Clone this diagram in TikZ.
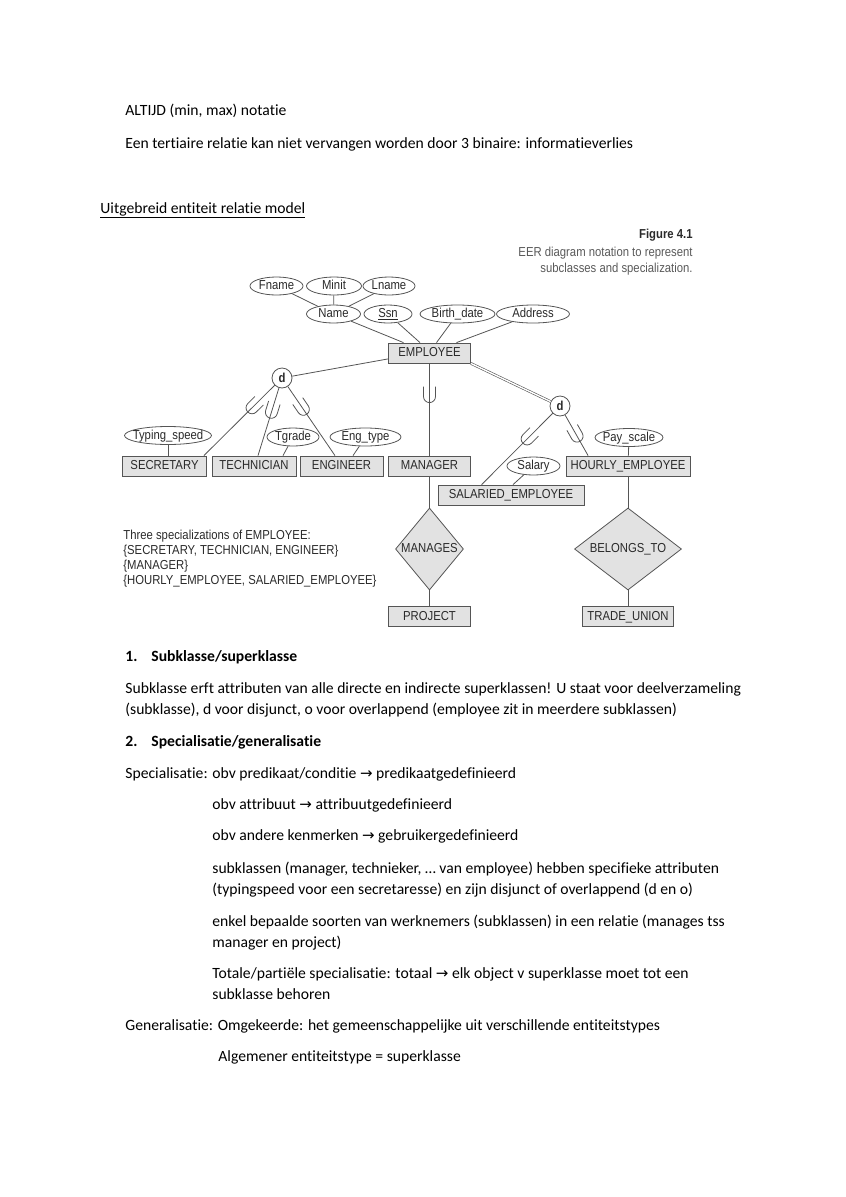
\documentclass[tikz,border=0pt]{standalone}
\usepackage{fontspec}
\setmainfont[Ligatures=NoCommon]{Carlito}
\newfontfamily\diagfont[FakeStretch=0.87]{Liberation Sans}
\newfontfamily\symfont{DejaVu Sans}
\usetikzlibrary{calc, shapes.geometric, decorations.markings}

\definecolor{linegray}{HTML}{555555}
\definecolor{boxgray}{HTML}{E2E2E2}
\definecolor{labelgray}{HTML}{2A2A2A}

\newcommand{\ra}{{\symfont\fontsize{15}{19}\selectfont →}}

\begin{document}
\begin{tikzpicture}[x=1pt, y=-1pt, line width=0.8pt,
    body/.style={anchor=base west, inner sep=0, font=\fontsize{15.64}{19}\selectfont},
    lbl/.style={font=\diagfont\fontsize{13}{15}\selectfont, text=labelgray},
    entity/.style={lbl, draw=linegray, fill=boxgray, minimum width=82, minimum height=20,
        inner xsep=2, inner ysep=0, text height=9.5, text depth=2.5},
    attr/.style={lbl, ellipse, draw=linegray, fill=white, minimum height=18,
        inner xsep=-5, inner ysep=0, text height=9.5, text depth=2.5},
    rel/.style={lbl, diamond, draw=linegray, fill=boxgray, inner xsep=-8, inner ysep=-4,
        text height=9.5, text depth=2.5, minimum height=82},
    disj/.style={circle, draw=linegray, fill=white, minimum size=20, inner sep=0, text=labelgray,
        font=\diagfont\bfseries\fontsize{13}{15}\selectfont},
    link/.style={draw=linegray},
    subset/.style={postaction={decorate}, decoration={markings, mark=at position #1 with
        {\draw[linegray] (-10,-6) -- (0,-6) arc (-90:90:6) -- (-10,6);}}},
]

    % page size
    \useasboundingbox (0,0) rectangle (846,1197);

    % ==========================================
    % 1. TEXT ABOVE THE FIGURE
    % ==========================================
    \node[body] (altijd) at (125,115) {ALTIJD (min, max) notatie};
    \node[body] (tert) at (125,148) {Een tertiaire relatie kan niet vervangen worden door 3 binaire: informatieverlies};
    \node[body] (eer) at (100,213) {\underline{Uitgebreid entiteit relatie model}};

    % caption of the figure
    \node[lbl, anchor=base east, inner sep=0, font=\diagfont\bfseries\fontsize{13}{15}\selectfont] (figno) at (693,238) {Figure 4.1};
    \node[lbl, anchor=base east, inner sep=0, text=black!65] (cap1) at (693,256) {EER diagram notation to represent};
    \node[lbl, anchor=base east, inner sep=0, text=black!65] (cap2) at (693,272) {subclasses and specialization.};

    % ==========================================
    % 2. EMPLOYEE AND ITS ATTRIBUTES
    % ==========================================
    \node[entity] (employee) at (429.5,353) {EMPLOYEE};

    \node[attr, minimum width=53] (fname) at (276.5,286) {Fname};
    \node[attr, minimum width=55] (minit) at (334,286) {Minit};
    \node[attr, minimum width=52] (lname) at (389,286) {Lname};
    \node[attr, minimum width=54] (name) at (333.5,314) {Name};
    \node[attr, minimum width=48] (ssn) at (388,314) {\underline{Ssn}};
    \node[attr, minimum width=75] (birth) at (457.5,314) {Birth\_date};
    \node[attr, minimum width=73] (address) at (533,314) {Address};

    \draw[link] (fname) -- (name);
    \draw[link] (minit) -- (name);
    \draw[link] (lname) -- (name);
    \draw[link] (name) -- ($(employee.north)+(-26,0)$);
    \draw[link] (ssn) -- ($(employee.north)+(-9.5,0)$);
    \draw[link] (birth) -- ($(employee.north)+(7,0)$);
    \draw[link] (address) -- ($(employee.north)+(27,0)$);

    % ==========================================
    % 3. SPECIALIZATIONS
    % ==========================================
    \node[disj] (dleft) at (282,378) {d};
    \node[disj] (dright) at (560,406) {d};

    \node[entity, minimum width=84] (secretary) at (164.5,466) {SECRETARY};
    \node[entity, minimum width=84] (technician) at (254,466) {TECHNICIAN};
    \node[entity, minimum width=83] (engineer) at (341.5,466) {ENGINEER};
    \node[entity] (manager) at (429.5,466) {MANAGER};
    \node[entity, minimum width=124] (hourly) at (628,466) {HOURLY\_EMPLOYEE};
    \node[entity, minimum width=146] (salaried) at (511,495) {SALARIED\_EMPLOYEE};

    \node[attr, minimum width=87] (typing) at (168,435.5) {Typing\_speed};
    \node[attr, minimum width=52] (tgrade) at (293,437) {Tgrade};
    \node[attr, minimum width=71] (engtype) at (365.5,437) {Eng\_type};
    \node[attr, minimum width=68] (payscale) at (629,437.5) {Pay\_scale};
    \node[attr, minimum width=53] (salary) at (533.5,466) {Salary};

    % superclass to the d circles
    \draw[link] (dleft) -- ($(employee.south west)+(0,-4.5)$);
    \draw[linegray, double, double distance=1.4pt, line width=0.6pt] (employee.south east) -- (dright);

    % subclass lines with subset marks
    \draw[link, subset=0.32] (dleft) -- ($(secretary.north east)+(-3,0)$);
    \draw[link, subset=0.36] (dleft) -- ($(technician.north)+(4,0)$);
    \draw[link, subset=0.33] (dleft) -- ($(engineer.north)+(-6.5,0)$);
    \draw[link, subset=0.36] (employee.south) -- (manager.north);
    \draw[link, subset=0.36] (dright) -- ($(salaried.north west)+(44,0)$);
    \draw[link, subset=0.52] (dright) -- ($(hourly.north west)+(22.5,0)$);

    % local attributes
    \draw[link] (typing.south) -- (typing.south |- secretary.north);
    \draw[link] (tgrade) -- ($(technician.north)+(29,0)$);
    \draw[link] (engtype) -- ($(engineer.north)+(11.5,0)$);
    \draw[link] (payscale) -- (hourly);
    \draw[link] (salary) -- ($(salaried.north)+(2,0)$);

    % ==========================================
    % 4. RELATIONSHIPS
    % ==========================================
    \node[rel, minimum width=68] (manages) at (429.5,549) {MANAGES};
    \node[rel, minimum width=107] (belongs) at (628,549) {BELONGS\_TO};
    \node[entity] (project) at (429.5,616.5) {PROJECT};
    \node[entity, minimum width=91] (tradeunion) at (628,616.5) {TRADE\_UNION};

    \draw[link] (manager) -- (manages);
    \draw[link] (manages) -- (project);
    \draw[link] (hourly) -- (belongs);
    \draw[link] (belongs) -- (tradeunion);

    \node[lbl, anchor=north west, inner sep=0, align=left, font=\diagfont\fontsize{13}{15}\selectfont] (three) at (123,530)
        {Three specializations of EMPLOYEE:\\\{SECRETARY, TECHNICIAN, ENGINEER\}\\\{MANAGER\}\\\{HOURLY\_EMPLOYEE, SALARIED\_EMPLOYEE\}};

    % ==========================================
    % 5. TEXT BELOW THE FIGURE
    % ==========================================
    \node[body, font=\bfseries\fontsize{15.64}{19}\selectfont] (h1) at (125,661) {\makebox[26pt][l]{1.}Subklasse/superklasse};
    \node[body] (p1a) at (125,693) {Subklasse erft attributen van alle directe en indirecte superklassen! U staat voor deelverzameling};
    \node[body] (p1b) at (125,714) {(subklasse), d voor disjunct, o voor overlappend (employee zit in meerdere subklassen)};
    \node[body, font=\bfseries\fontsize{15.64}{19}\selectfont] (h2) at (125,746) {\makebox[26pt][l]{2.}Specialisatie/generalisatie};
    \node[body] (s1) at (125,778) {Specialisatie: obv predikaat/conditie \ra{} predikaatgedefinieerd};
    \node[body] (s2) at (212,809) {obv attribuut \ra{} attribuutgedefinieerd};
    \node[body] (s3) at (212,840) {obv andere kenmerken \ra{} gebruikergedefinieerd};
    \node[body] (s4a) at (212,873) {subklassen (manager, technieker, … van employee) hebben specifieke attributen};
    \node[body] (s4b) at (212,894) {(typingspeed voor een secretaresse) en zijn disjunct of overlappend (d en o)};
    \node[body] (s5a) at (212,926) {enkel bepaalde soorten van werknemers (subklassen) in een relatie (manages tss};
    \node[body] (s5b) at (212,947) {manager en project)};
    \node[body] (s6a) at (212,978) {Totale/partiële specialisatie: totaal \ra{} elk object v superklasse moet tot een};
    \node[body] (s6b) at (212,999) {subklasse behoren};
    \node[body] (g1) at (125,1030) {Generalisatie: Omgekeerde: het gemeenschappelijke uit verschillende entiteitstypes};
    \node[body] (g2) at (218,1061) {Algemener entiteitstype = superklasse};

\end{tikzpicture}
\end{document}
